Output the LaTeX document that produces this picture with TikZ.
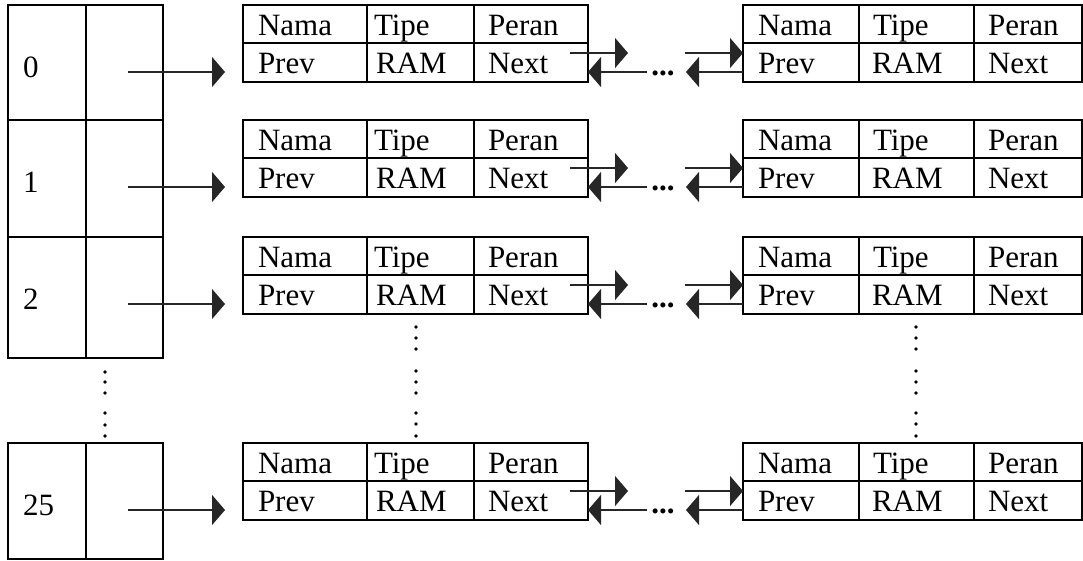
\documentclass[tikz,border=0pt]{standalone}
\usepackage{fontspec}
\setmainfont{Liberation Serif}
\usetikzlibrary{arrows.meta}

\tikzset{
  cell/.style={draw, line width=2.2pt, inner sep=0pt, outer sep=0pt, anchor=north west},
  txt/.style={inner sep=0pt, outer sep=0pt, anchor=base west, font=\fontsize{31}{37}\selectfont},
  ptr/.style={draw=black!85, line width=1.2pt, -{Triangle[length=13pt,width=30pt]}},
  gap/.style={inner sep=0pt, anchor=base, font=\fontsize{31}{37}\selectfont\bfseries},
}

\begin{document}
\begin{tikzpicture}[x=1pt, y=-1pt]
\useasboundingbox (0,0) rectangle (1083,560);

% one row per table slot: top, bottom, slot number, name prefix
\foreach \T/\B/\lab/\i in {5/120/0/a, 120/237/1/b, 237/358/2/c, 443/559/25/d}{
  % table slot: key cell and pointer cell
  \node[cell, minimum width=78pt, minimum height={(\B-\T)*1pt}] (\i key) at (8,\T) {};
  \node[cell, minimum width=77pt, minimum height={(\B-\T)*1pt}] (\i ptr) at (86,\T) {};
  \node[txt] (\i lab) at (23,\T+72) {\lab};

  % two list records of the row
  \foreach \R/\xa/\xb/\xc/\xd/\ot/\orr in {p/243/367/474/588/7/9, q/743/859/974/1082/14/13}{
    \node[cell, minimum width={(\xb-\xa)*1pt}, minimum height=38pt] (\i\R1) at (\xa,\T) {};
    \node[cell, minimum width={(\xc-\xb)*1pt}, minimum height=38pt] (\i\R2) at (\xb,\T) {};
    \node[cell, minimum width={(\xd-\xc)*1pt}, minimum height=38pt] (\i\R3) at (\xc,\T) {};
    \node[cell, minimum width={(\xb-\xa)*1pt}, minimum height=39pt] (\i\R4) at (\xa,\T+38) {};
    \node[cell, minimum width={(\xc-\xb)*1pt}, minimum height=39pt] (\i\R5) at (\xb,\T+38) {};
    \node[cell, minimum width={(\xd-\xc)*1pt}, minimum height=39pt] (\i\R6) at (\xc,\T+38) {};
    \node[txt] (\i\R t1) at (\xa+15,\T+30) {Nama};
    \node[txt] (\i\R t2) at (\xb+\ot,\T+30) {Tipe};
    \node[txt] (\i\R t3) at (\xc+14,\T+30) {Peran};
    \node[txt] (\i\R t4) at (\xa+15,\T+68) {Prev};
    \node[txt] (\i\R t5) at (\xb+\orr,\T+68) {RAM};
    \node[txt] (\i\R t6) at (\xc+14,\T+68) {Next};
  }

  % pointer from the table slot to the first record
  \coordinate (\i s0) at (128,\T+67);
  \coordinate (\i e0) at (225,\T+67);
  \draw[ptr] (\i s0) -- (\i e0);

  % next / prev links between the records
  \coordinate (\i f1) at (570,\T+48);
  \coordinate (\i f2) at (628,\T+48);
  \draw[ptr] (\i f1) -- (\i f2);
  \coordinate (\i b1) at (647,\T+67);
  \draw[ptr] (\i b1) -- (\i b1 -| \i p6.east);
  \node[gap] (\i gap) at (663,\T+70) {...};
  \coordinate (\i g1) at (685,\T+48);
  \draw[ptr] (\i g1) -- (\i g1 -| \i q4.west);
  \coordinate (\i h1) at (686,\T+67);
  \draw[ptr] (\i h1 -| \i q4.west) -- (\i h1);
}

% vertical ellipses between slot 2 and slot 25
\foreach \y in {372,382,393,413,425,436}{
  \fill (105,\y) circle (1.8pt);
}
\foreach \x in {416,916}{
  \foreach \y in {327,338,349,371,382,393,413,424,436}{
    \fill (\x,\y) circle (1.8pt);
  }
}
\end{tikzpicture}
\end{document}
